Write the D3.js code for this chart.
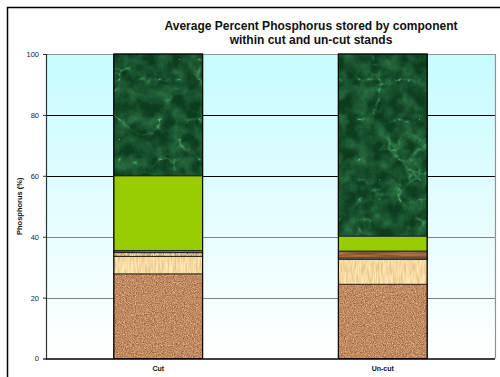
<!DOCTYPE html>
<html>
<head>
<meta charset="utf-8">
<script src="https://cdn.jsdelivr.net/npm/d3@7"></script>
<style>
  html, body { margin: 0; padding: 0; background: #fff; }
  svg { display: block; font-family: "Liberation Sans", Arial, sans-serif; }
</style>
</head>
<body>
<svg id="chart" width="500" height="377"></svg>
<script>
// Stands and phosphorus share (%) held in each storage component, bottom to top
const categories = ["Cut", "Un-cut"];
const components = ["Mineral soil", "Forest floor", "Roots", "Branches", "Foliage", "Stem"];
const cutValues   = [27.8, 5.7, 1.3, 0.7, 24.5, 40.0];
const uncutValues = [24.4, 8.1, 0.5, 2.3, 4.9, 59.8];
const yTicks = [0, 20, 40, 60, 80, 100];
const titleLines = ["Average Percent Phosphorus stored by component", "within cut and un-cut stands"];
const yLabel = "Phosphorus (%)";

const svg = d3.select("#chart");
const plot = { left: 46, right: 495, top: 54, bottom: 358.5 };

const x = d3.scaleBand().domain(categories).range([plot.left, plot.right])
  .paddingInner(0.6).paddingOuter(0.3);
const y = d3.scaleLinear().domain([0, 100]).range([plot.bottom, plot.top]);

const defs = svg.append("defs");

// background gradient of the plot area
const grad = defs.append("linearGradient").attr("id", "bg").attr("x1", 0).attr("y1", 0).attr("x2", 0).attr("y2", 1);
grad.append("stop").attr("offset", "0%").attr("stop-color", "#c6fbff");
grad.append("stop").attr("offset", "100%").attr("stop-color", "#ffffff");

function newFilter(id) {
  return defs.append("filter").attr("id", id)
    .attr("x", 0).attr("y", 0).attr("width", 1).attr("height", 1)
    .attr("color-interpolation-filters", "sRGB");
}
// textured fills built from noise
function texture(id, type, freq, octaves, seed, matrix) {
  const f = newFilter(id);
  f.append("feTurbulence").attr("type", type).attr("baseFrequency", freq)
    .attr("numOctaves", octaves).attr("seed", seed).attr("result", "n");
  f.append("feColorMatrix").attr("type", "matrix").attr("values", matrix).attr("result", "c");
  f.append("feComposite").attr("in", "c").attr("in2", "SourceGraphic").attr("operator", "in");
}
// speckled soil
texture("tx0", "fractalNoise", "0.9", 3, 4,
  "0.6 0 0 0 0.45  0.5 0 0 0 0.29  0.4 0 0 0 0.18  0 0 0 0 1");
// pale straw
texture("tx1", "fractalNoise", "0.6 0.08", 2, 7,
  "0.25 0 0 0 0.84  0.3 0 0 0 0.7  0.35 0 0 0 0.46  0 0 0 0 1");
// woven strip
texture("tx2", "fractalNoise", "0.9 0.3", 2, 3,
  "0.8 0 0 0 0.38  0.75 0 0 0 0.28  0.6 0 0 0 0.16  0 0 0 0 1");
// wood
texture("tx3", "fractalNoise", "0.02 0.5", 2, 9,
  "0.5 0 0 0 0.35  0.4 0 0 0 0.2  0.3 0 0 0 0.08  0 0 0 0 1");

// green marble: mottled base plus thin light veins
{
  const f = newFilter("tx5");
  f.append("feTurbulence").attr("type", "fractalNoise").attr("baseFrequency", "0.07")
    .attr("numOctaves", 4).attr("seed", 5).attr("result", "m0");
  f.append("feColorMatrix").attr("in", "m0").attr("type", "matrix")
    .attr("values", "1.6 0 0 0 -0.5  1.6 0 0 0 -0.5  1.6 0 0 0 -0.5  0 0 0 0 1").attr("result", "m");
  f.append("feTurbulence").attr("type", "turbulence").attr("baseFrequency", "0.025")
    .attr("numOctaves", 4).attr("seed", 11).attr("result", "t0");
  f.append("feColorMatrix").attr("in", "t0").attr("type", "matrix")
    .attr("values", "-5 0 0 0 1  -5 0 0 0 1  -5 0 0 0 1  0 0 0 0 1").attr("result", "v0");
  f.append("feComponentTransfer").attr("in", "v0").attr("result", "v")
    .call(c => ["feFuncR", "feFuncG", "feFuncB"].forEach(fn =>
      c.append(fn).attr("type", "gamma").attr("amplitude", 1).attr("exponent", 2.2).attr("offset", 0)));
  f.append("feComposite").attr("in", "m").attr("in2", "v").attr("operator", "arithmetic")
    .attr("k1", 0).attr("k2", 0.45).attr("k3", 0.7).attr("k4", 0).attr("result", "s");
  f.append("feColorMatrix").attr("in", "s").attr("type", "matrix")
    .attr("values", "0.3 0 0 0 0.05  0.5 0 0 0 0.24  0.36 0 0 0 0.12  0 0 0 0 1").attr("result", "c");
  f.append("feComposite").attr("in", "c").attr("in2", "SourceGraphic").attr("operator", "in");
}

const solidColors = ["#c28b5c", "#f0dba6", "#9a8560", "#8b5a2e", "#99cc00", "#1d4d30"];
const filters = ["url(#tx0)", "url(#tx1)", "url(#tx2)", "url(#tx3)", null, "url(#tx5)"];

// outer frame
svg.append("path").attr("d", "M7.5,377 V7.5 H500").attr("fill", "none")
  .attr("stroke", "#000").attr("stroke-width", 1.5);

// plot area
svg.append("rect").attr("x", plot.left).attr("y", plot.top)
  .attr("width", plot.right - plot.left).attr("height", plot.bottom - plot.top)
  .attr("fill", "url(#bg)");

// gridlines
svg.append("g").selectAll("line").data(yTicks.filter(d => d > 0 && d < 100)).join("line")
  .attr("x1", plot.left).attr("x2", plot.right)
  .attr("y1", d => Math.round(y(d)) + 0.5).attr("y2", d => Math.round(y(d)) + 0.5)
  .attr("stroke", d => d >= 60 ? "#000" : "#808080").attr("stroke-width", 1.2);

// plot border (top and right)
svg.append("path")
  .attr("d", `M${plot.left},${plot.top + 0.5} H${plot.right + 0.5} V${plot.bottom}`)
  .attr("fill", "none").attr("stroke", "#909090").attr("stroke-width", 1.2);

// stacked bars
const rows = categories.map((c, i) => {
  const vals = i === 0 ? cutValues : uncutValues;
  const r = { category: c };
  components.forEach((k, j) => r[k] = vals[j]);
  return r;
});
const stack = d3.stack().keys(components)(rows);

const layers = svg.append("g").selectAll("g").data(stack).join("g");
layers.each(function(layer, li) {
  const g = d3.select(this);
  const segs = g.selectAll("g").data(layer).join("g");
  segs.append("rect")
    .attr("x", d => x(d.data.category))
    .attr("y", d => y(d[1]))
    .attr("width", x.bandwidth())
    .attr("height", d => y(d[0]) - y(d[1]))
    .attr("fill", solidColors[li])
    .attr("filter", filters[li]);
  if (li === 2) {
    // fine stitch marks across the thin strip
    segs.each(function(d) {
      const s = d3.select(this);
      const x0 = x(d.data.category), w = x.bandwidth();
      const ym = (y(d[0]) + y(d[1])) / 2;
      s.append("line").attr("x1", x0).attr("x2", x0 + w).attr("y1", ym).attr("y2", ym)
        .attr("stroke", "#e8d4a0").attr("stroke-width", 0.8).attr("stroke-dasharray", "2,1");
    });
  }
  segs.append("rect")
    .attr("x", d => x(d.data.category) + 0.5)
    .attr("y", d => y(d[1]))
    .attr("width", x.bandwidth() - 1)
    .attr("height", d => y(d[0]) - y(d[1]))
    .attr("fill", "none")
    .attr("stroke", "#1a1a1a").attr("stroke-width", 0.8);
});

// outline of each bar
svg.append("g").selectAll("rect").data(categories).join("rect")
  .attr("x", d => x(d) + 0.5).attr("y", y(100))
  .attr("width", x.bandwidth() - 1).attr("height", y(0) - y(100))
  .attr("fill", "none").attr("stroke", "#000").attr("stroke-width", 1);

// y axis
const yAxis = svg.append("g").attr("transform", `translate(${plot.left},0)`)
  .call(d3.axisLeft(y).tickValues(yTicks).tickSize(3).tickPadding(4));
yAxis.select(".domain").attr("stroke", "#333").attr("stroke-width", 1.2);
yAxis.selectAll(".tick line").attr("stroke", "#333");
yAxis.selectAll(".tick text").attr("font-size", 7.5).attr("fill", "#222")
  .attr("font-family", "Liberation Sans, Arial, sans-serif");

// x axis
const xAxis = svg.append("g").attr("transform", `translate(0,${plot.bottom})`)
  .call(d3.axisBottom(x).tickSize(0).tickPadding(8));
xAxis.select(".domain").attr("stroke", "#000").attr("stroke-width", 1.5)
  .attr("d", `M${plot.left},0.5H${plot.right}`);
xAxis.selectAll(".tick text").attr("font-size", 7).attr("font-weight", "bold")
  .attr("fill", "#111").attr("font-family", "Liberation Sans, Arial, sans-serif");

// y axis title
svg.append("text")
  .attr("transform", `translate(19,${(plot.top + plot.bottom) / 2}) rotate(-90)`)
  .attr("text-anchor", "middle").attr("dy", "0.35em")
  .attr("font-size", 7.5).attr("font-weight", "bold").attr("fill", "#111")
  .text(yLabel);

// chart title
svg.append("g").selectAll("text").data(titleLines).join("text")
  .attr("x", 311).attr("y", (d, i) => 30 + i * 14)
  .attr("text-anchor", "middle")
  .attr("font-size", 12).attr("font-weight", "bold").attr("fill", "#111")
  .text(d => d);
</script>
</body>
</html>
